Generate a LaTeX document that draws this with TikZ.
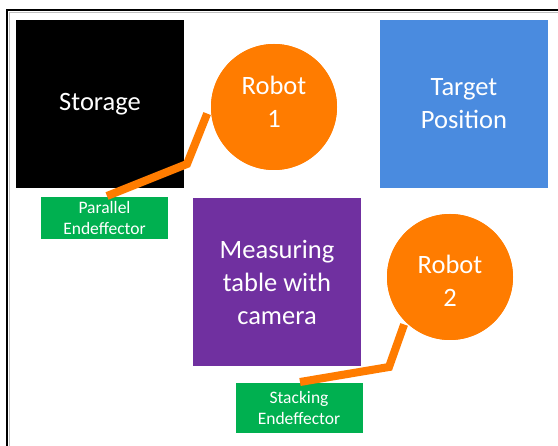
\documentclass[tikz,border=0pt]{standalone}
\usepackage{fontspec}
\setmainfont{Carlito}
\definecolor{orng}{RGB}{255,124,0}
\definecolor{tblue}{RGB}{74,139,223}
\definecolor{egreen}{RGB}{0,176,80}
\definecolor{mpurple}{RGB}{112,48,160}
\begin{document}
\begin{tikzpicture}[x=1pt,y=-1pt,
  big/.style={font=\fontsize{26.5}{33}\selectfont, text=white, align=center},
  small/.style={font=\fontsize{17.5}{20.5}\selectfont, text=white, align=center},
  block/.style={rectangle, draw=none, minimum width=168pt, minimum height=168pt, inner sep=0pt},
  effbox/.style={rectangle, draw=none, minimum width=127pt, minimum height=44pt, inner sep=0pt},
  robot/.style={circle, fill=orng, draw=none, minimum size=126pt, inner sep=0pt},
  arm/.style={draw=orng, line width=8pt, line join=miter}]
\useasboundingbox (0,0) rectangle (558,446);
\fill[white] (0,0) rectangle (558,446);
% frame
\draw[gray!50, line width=1pt] (9,446) -- (9,12.5) -- (558,12.5);
\draw[black, line width=2pt] (7,446) -- (7,10) -- (558,10);
% blocks
\node[block, fill=black, big] (storage) at (100,104) {Storage};
\node[block, fill=tblue, big] (target) at (464,104) {Target\\Position};
\node[block, fill=mpurple, big] (meas) at (277,282) {Measuring\\table with\\camera};
\node[effbox, fill=egreen, small, minimum height=42pt] (pe) at (104.5,218) {Parallel\\Endeffector};
\node[effbox, fill=egreen, small, minimum height=50pt] (se) at (299,408) {Stacking\\Endeffector};
% arms
\coordinate (j1) at (187,164);
\coordinate (h1) at (107,196);
\coordinate (j2) at (389,367);
\coordinate (h2) at (300,382);
\node[robot] (r1) at (274,107) {};
\node[robot] (r2) at (450,277) {};
\draw[arm] (r1.186) ++(-4,0) -- (j1) -- (h1);
\draw[arm] (r2.226) ++(-2,2) -- (j2) -- (h2);
\node[robot, big] (r1b) at (274,107) {};
\node[robot, big] (r2b) at (450,277) {};
\node[big] (r1t) at (274,102) {Robot\\1};
\node[big] (r2t) at (450,281) {Robot\\2};
\end{tikzpicture}
\end{document}
